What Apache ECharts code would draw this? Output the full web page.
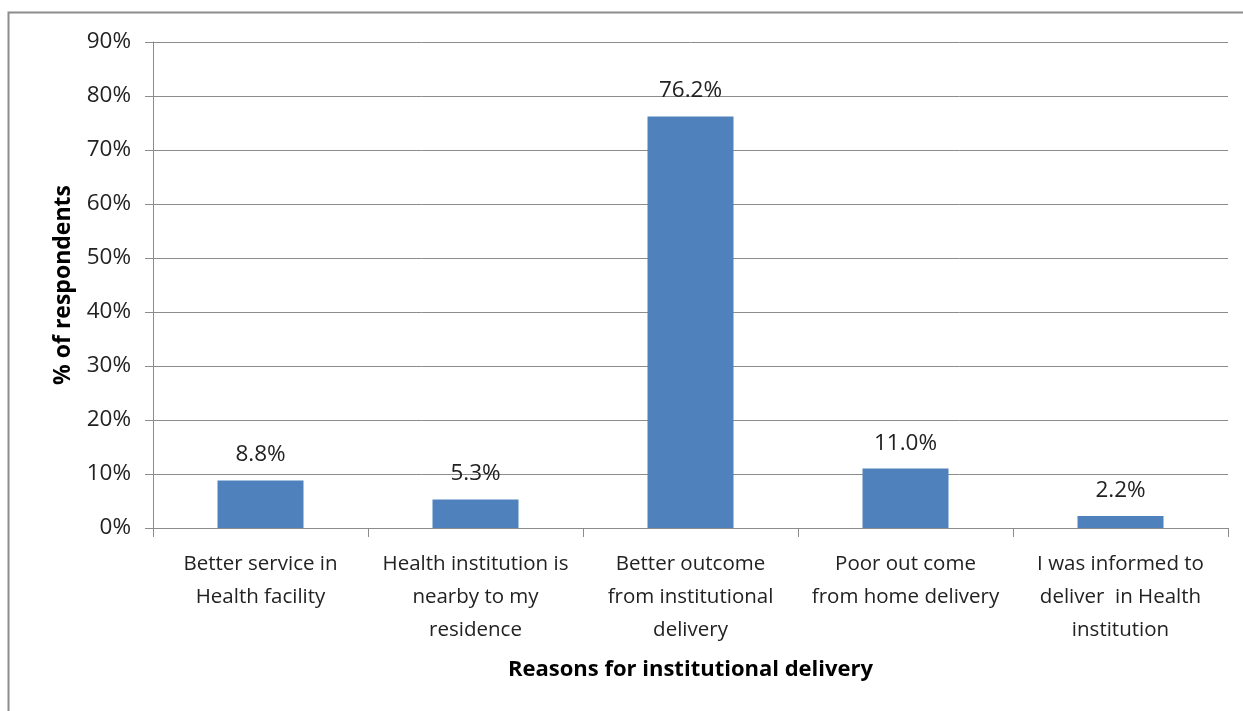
<!DOCTYPE html>
<html><head><meta charset="utf-8">
<script src="https://cdn.jsdelivr.net/npm/echarts@6/dist/echarts.min.js"></script>
<style>html,body{margin:0;padding:0;background:#fff}#c{width:1243px;height:711px}</style>
</head><body><div id="c"></div>
<script>
var categories = [
  "Better service in\nHealth facility",
  "Health institution is\nnearby to my\nresidence",
  "Better outcome\nfrom institutional\ndelivery",
  "Poor out come\nfrom home delivery",
  "I was informed to\ndeliver  in Health\ninstitution"
];
var values = [8.8, 5.3, 76.2, 11.0, 2.2];
var yTicks = {min: 0, max: 90, interval: 10};
var xTitle = "Reasons for institutional delivery";
var yTitle = "% of respondents";

var FONT = "Open Sans";
var chart = echarts.init(document.getElementById('c'), null, {renderer: 'canvas'});
chart.setOption({
  animation: false,
  textStyle: {fontFamily: FONT},
  graphic: [{
    type: 'rect', left: 6, top: 10, shape: {width: 1260, height: 720},
    style: {fill: 'none', stroke: '#8c8c8c', lineWidth: 2}, silent: true
  }],
  grid: {left: 153, right: 15, top: 42, bottom: 183, containLabel: false},
  xAxis: {
    type: 'category', data: categories,
    name: xTitle, nameLocation: 'middle', nameGap: 131,
    nameTextStyle: {fontFamily: FONT, fontSize: 22, fontWeight: 'bold', color: '#000'},
    axisLine: {lineStyle: {color: '#8c8c8c', width: 1}},
    axisTick: {show: true, alignWithLabel: false, length: 9, lineStyle: {color: '#8c8c8c'}},
    axisLabel: {interval: 0, fontFamily: FONT, fontSize: 20.5, color: '#222', lineHeight: 33, margin: 20}
  },
  yAxis: {
    type: 'value', min: yTicks.min, max: yTicks.max, interval: yTicks.interval,
    name: yTitle, nameLocation: 'middle', nameGap: 78, nameRotate: 90,
    nameTextStyle: {fontFamily: FONT, fontSize: 23, fontWeight: 'bold', color: '#000'},
    axisLine: {show: true, lineStyle: {color: '#8c8c8c', width: 1}},
    axisTick: {show: true, length: 8, lineStyle: {color: '#8c8c8c'}},
    axisLabel: {formatter: '{value}%', fontFamily: FONT, fontSize: 22.5, color: '#222', margin: 22},
    splitLine: {lineStyle: {color: '#8c8c8c', width: 1}}
  },
  series: [{
    type: 'bar', data: values, barCategoryGap: '60%',
    itemStyle: {color: '#4F81BD'},
    label: {show: true, position: 'top', distance: 14, fontFamily: FONT, fontSize: 22.5, color: '#222',
      formatter: function(p){ return p.value.toFixed(1) + '%'; }}
  }]
});
</script></body></html>
